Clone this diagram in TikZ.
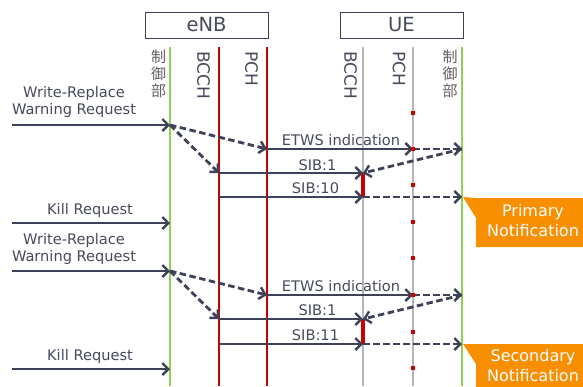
\documentclass[tikz,border=0pt]{standalone}
\usepackage{fontspec}
\setmainfont{DejaVu Sans}
\newfontfamily\jpfont{Noto Sans CJK JP}
\usetikzlibrary{arrows.meta}
\definecolor{ink}{RGB}{62,66,88}
\definecolor{txt}{RGB}{70,74,92}
\definecolor{jptxt}{RGB}{95,95,100}
\definecolor{lgreen}{RGB}{146,208,80}
\definecolor{lred}{RGB}{204,0,0}
\definecolor{lgray}{RGB}{182,182,182}
\definecolor{orng}{RGB}{247,143,0}
\begin{document}
\begin{tikzpicture}[x=1pt,y=-1pt,
  msg/.style={draw=ink,line width=2.8pt,-{Straight Barb[length=6pt,width=12pt,line width=2.4pt]}},
  dmsg/.style={msg,dash pattern=on 6.5pt off 3.5pt},
  lbl/.style={text=txt,font=\fontsize{14.6}{17.5}\selectfont,inner sep=0pt},
  vlbl/.style={text=txt,font=\fontsize{17}{18}\selectfont,inner sep=0pt,rotate=-90,anchor=west},
  jplbl/.style={text=jptxt,font=\jpfont\fontsize{15}{17}\selectfont,inner sep=0pt,align=center,anchor=north},
  hdr/.style={draw=ink,line width=0.9pt,text=txt,font=\fontsize{19.5}{20}\selectfont,minimum width=123pt,minimum height=26pt,inner sep=0pt},
  greenline/.style={draw=lgreen,line width=2.5pt},
  redline/.style={draw=lred,line width=2.8pt},
  grayline/.style={draw=lgray,line width=2.8pt},
  calltext/.style={text=white,font=\fontsize{16}{20}\selectfont,align=center,inner sep=0pt},
]
\useasboundingbox (0,0) rectangle (583,386);
\clip (0,0) rectangle (583,386);

% headers
\node[hdr] (enb) at (206.5,25) {eNB};
\node[hdr] (ue) at (401.5,25) {UE};

% lifeline ends
\coordinate (eCt) at (170,47);  \coordinate (eCb) at (170,386);
\coordinate (eBt) at (219,47);  \coordinate (eBb) at (219,386);
\coordinate (ePt) at (267,47);  \coordinate (ePb) at (267,386);
\coordinate (uBt) at (363,47);  \coordinate (uBb) at (363,386);
\coordinate (uPt) at (413,47);  \coordinate (uPb) at (413,386);
\coordinate (uCt) at (462,47);  \coordinate (uCb) at (462,386);

\draw[greenline] (eCt) -- (eCb);
\draw[redline] (eBt) -- (eBb);
\draw[redline] (ePt) -- (ePb);
\draw[grayline] (uBt) -- (uBb);
\draw[grayline] (uPt) -- (uPb);
\draw[greenline] (uCt) -- (uCb);

% lifeline labels
\node[jplbl] (eCl) at (158.5,50) {制\\御\\部};
\node[vlbl] (eBl) at (203.5,51) {BCCH};
\node[vlbl] (ePl) at (251.5,51) {PCH};
\node[vlbl] (uBl) at (350.5,51) {BCCH};
\node[vlbl] (uPl) at (399,51) {PCH};
\node[jplbl] (uCl) at (450,50) {制\\御\\部};

% event coordinates, first round
\coordinate (s1) at (12,125);   \coordinate (c1) at (170,125);
\coordinate (p1) at (267,149);  \coordinate (up1) at (413,149); \coordinate (uc1) at (462,149);
\coordinate (b1) at (219,173);  \coordinate (ub1) at (363,173);
\coordinate (b2) at (219,197);  \coordinate (ub2) at (363,197); \coordinate (uc2) at (462,197);
\coordinate (s2) at (12,223);   \coordinate (c2) at (170,223);
% second round
\coordinate (s3) at (12,271);   \coordinate (c3) at (170,271);
\coordinate (p3) at (267,295);  \coordinate (up3) at (413,295); \coordinate (uc3) at (462,295);
\coordinate (b3) at (219,319);  \coordinate (ub3) at (363,319);
\coordinate (b4) at (219,344);  \coordinate (ub4) at (363,344); \coordinate (uc4) at (462,344);
\coordinate (s4) at (12,369);   \coordinate (c4) at (170,369);

% red active segments on UE BCCH
\draw[lred,line width=3.2pt] (ub1) -- (ub2);
\draw[lred,line width=3.2pt] (ub3) -- (ub4);

% messages round 1
\draw[msg] (s1) -- (c1);
\draw[dmsg] (c1) -- (p1);
\draw[dmsg] (c1) -- (b1);
\draw[msg] (p1) -- (up1);
\draw[dmsg] (up1) -- (uc1);
\draw[dmsg] (uc1) -- (ub1);
\draw[msg] (b1) -- (ub1);
\draw[msg] (b2) -- (ub2);
\draw[dmsg] (ub2) -- (uc2);
\draw[msg] (s2) -- (c2);

% messages round 2
\draw[msg] (s3) -- (c3);
\draw[dmsg] (c3) -- (p3);
\draw[dmsg] (c3) -- (b3);
\draw[msg] (p3) -- (up3);
\draw[dmsg] (up3) -- (uc3);
\draw[dmsg] (uc3) -- (ub3);
\draw[msg] (b3) -- (ub3);
\draw[msg] (b4) -- (ub4);
\draw[dmsg] (ub4) -- (uc4);
\draw[msg] (s4) -- (c4);

% paging dots on UE PCH
\foreach \yy in {113,149,185,222,258,295,332,368}
  \fill[lred] (411,\yy-2) rectangle (415,\yy+2);

% message labels
\node[lbl,align=center] (wr1) at (74,102) {Write-Replace\\Warning Request};
\node[lbl,anchor=base] (et1) at (341,145) {ETWS indication};
\node[lbl,anchor=base] (sb1) at (317.5,170) {SIB:1};
\node[lbl,anchor=base] (sb10) at (315.5,193) {SIB:10};
\node[lbl,anchor=base] (kr1) at (90,214) {Kill Request};
\node[lbl,align=center] (wr2) at (74,249) {Write-Replace\\Warning Request};
\node[lbl,anchor=base] (et2) at (341,291) {ETWS indication};
\node[lbl,anchor=base] (sb3) at (317.5,315) {SIB:1};
\node[lbl,anchor=base] (sb11) at (315.5,340) {SIB:11};
\node[lbl,anchor=base] (kr2) at (90,360) {Kill Request};

% callouts
\fill[orng] (uc2) ++(1,0) -- (476,198) -- (590,198) -- (590,247) -- (476,247) -- (476,218) -- cycle;
\node[calltext] (pn) at (533,220.5) {Primary\\Notification};
\fill[orng] (uc4) ++(1,0) -- (476,344) -- (590,344) -- (590,395) -- (476,395) -- (476,364) -- cycle;
\node[calltext] (sn) at (533,366) {Secondary\\Notification};
\end{tikzpicture}
\end{document}
